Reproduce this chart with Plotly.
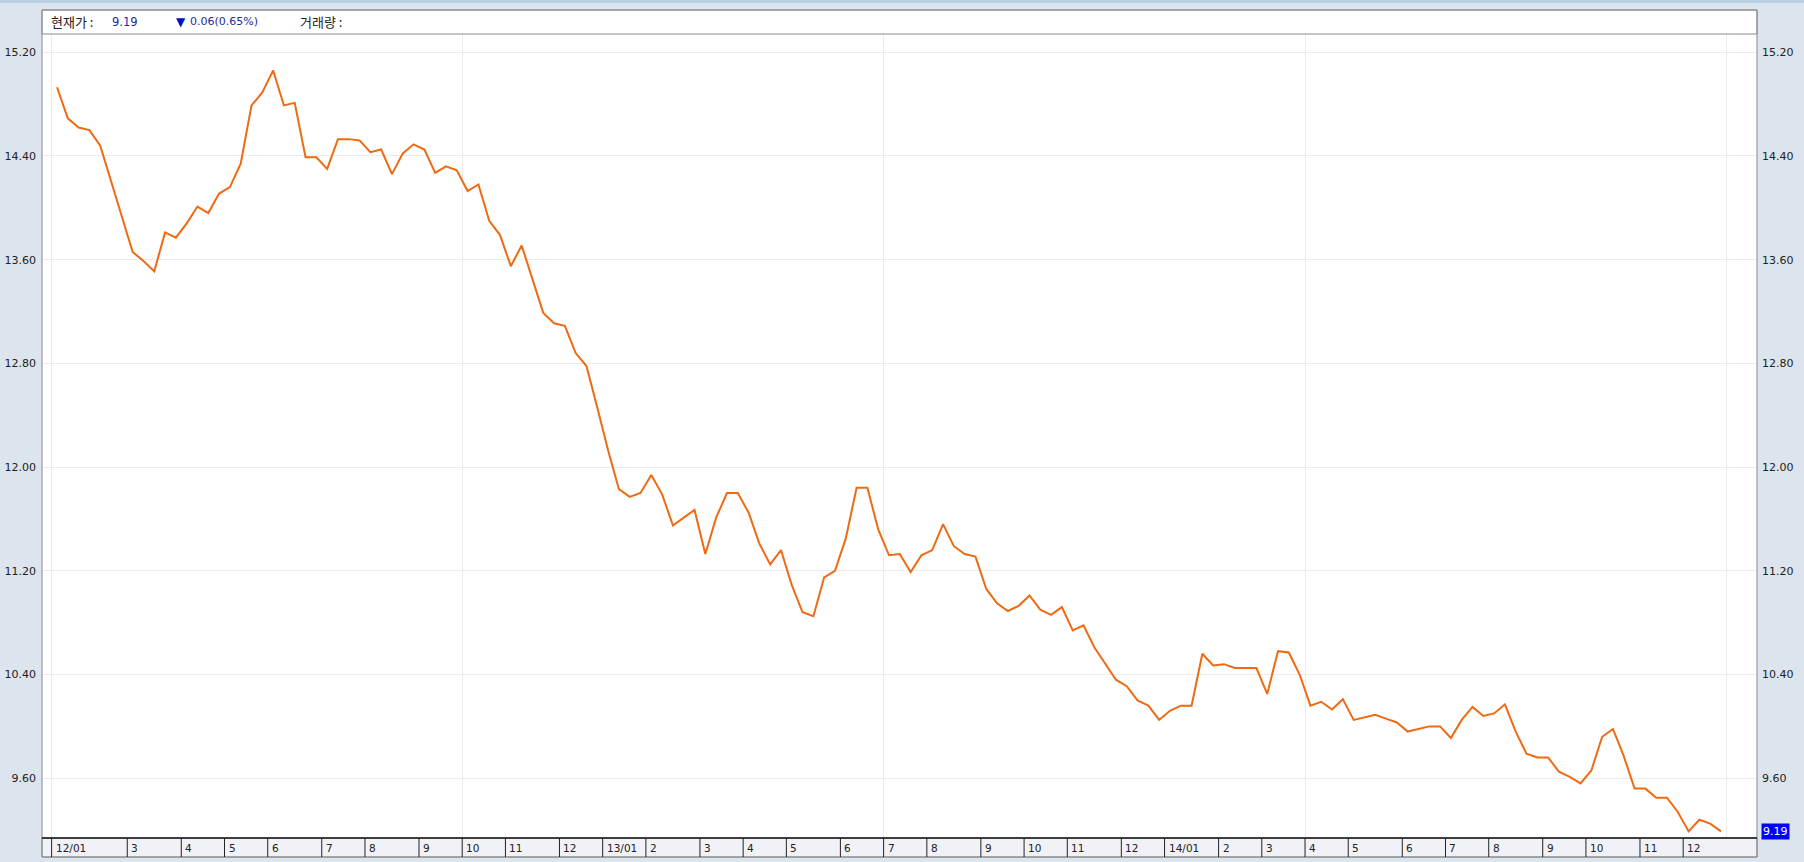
import plotly.graph_objects as go

# ---- data (weekly closes, Jan 2012 - Dec 2014) ----
prices = [
    14.93, 14.69, 14.62, 14.60, 14.48, 14.20, 13.93, 13.66, 13.59, 13.51,
    13.81, 13.77, 13.88, 14.01, 13.96, 14.11, 14.16, 14.34, 14.79, 14.89,
    15.06, 14.79, 14.81, 14.39, 14.39, 14.30, 14.53, 14.53, 14.52, 14.43,
    14.45, 14.26, 14.42, 14.49, 14.45, 14.27, 14.32, 14.29, 14.13, 14.18,
    13.90, 13.79, 13.55, 13.71, 13.45, 13.19, 13.11, 13.09, 12.88, 12.78,
    12.46, 12.13, 11.83, 11.77, 11.80, 11.94, 11.79, 11.55, 11.61, 11.67,
    11.33, 11.61, 11.80, 11.80, 11.65, 11.41, 11.25, 11.36, 11.09, 10.88,
    10.85, 11.15, 11.20, 11.45, 11.84, 11.84, 11.52, 11.32, 11.33, 11.19,
    11.32, 11.36, 11.56, 11.39, 11.33, 11.31, 11.06, 10.95, 10.89, 10.93,
    11.01, 10.90, 10.86, 10.92, 10.74, 10.78, 10.61, 10.48, 10.36, 10.31,
    10.20, 10.16, 10.05, 10.12, 10.16, 10.16, 10.56, 10.47, 10.48, 10.45,
    10.45, 10.45, 10.25, 10.58, 10.57, 10.40, 10.16, 10.19, 10.13, 10.21,
    10.05, 10.07, 10.09, 10.06, 10.03, 9.96, 9.98, 10.00, 10.00, 9.91,
    10.05, 10.15, 10.08, 10.10, 10.17, 9.96, 9.79, 9.76, 9.76, 9.65,
    9.61, 9.56, 9.66, 9.92, 9.98, 9.77, 9.52, 9.52, 9.45, 9.45,
    9.34, 9.19, 9.28, 9.25, 9.19,
]
weeks = list(range(len(prices)))

month_labels = ["12/01", "3", "4", "5", "6", "7", "8", "9", "10", "11", "12",
                "13/01", "2", "3", "4", "5", "6", "7", "8", "9", "10", "11", "12",
                "14/01", "2", "3", "4", "5", "6", "7", "8", "9", "10", "11", "12"]
month_start_week = [0, 7, 12, 16, 20, 25, 29, 34, 38, 42, 47,
                    51, 55, 60, 64, 68, 73, 77, 81, 86, 90, 94, 99,
                    103, 108, 112, 116, 120, 125, 129, 133, 138, 142, 147, 151]
grid_week = [0, 38, 77, 116, 155]          # vertical grid every 9 months

y_ticks = [9.60, 10.40, 11.20, 12.00, 12.80, 13.60, 14.40, 15.20]
y_ticktext = [f"{v:.2f}" for v in y_ticks]

header_label_price = "현재가 :"
header_change = "0.06(0.65%)"
header_volume = "거래량 :"

# ---- geometry ----
W, H = 1804, 862
ML, MR, MT, MB = 42, 47, 34, 24
PW = W - ML - MR
PH = H - MT - MB
AXIS_BOX = 19 / PH          # height of the date strip in paper units
HEADER = 24 / PH

LINE = "#ef6a12"
GRID = "#ececec"
BG = "#dce4ed"
NAVY = "#1e2a9c"
FONT = "DejaVu Sans"
KFONT = "Noto Sans CJK KR"

fig = go.Figure()
fig.add_trace(go.Scatter(x=weeks, y=prices, mode="lines",
                         line=dict(color=LINE, width=2), hoverinfo="skip",
                         showlegend=False))
fig.add_trace(go.Scatter(x=weeks, y=prices, mode="lines", yaxis="y2",
                         line=dict(color="rgba(0,0,0,0)", width=0),
                         hoverinfo="skip", showlegend=False))

xr = [-1.39, 157.33]
yr = [9.139, 15.341]

fig.update_layout(
    width=W, height=H,
    margin=dict(l=ML, r=MR, t=MT, b=MB, pad=0, autoexpand=False),
    paper_bgcolor=BG, plot_bgcolor="white",
    xaxis=dict(range=xr, tickvals=[g - 0.5 for g in grid_week],
               showticklabels=False, ticks="", showgrid=True,
               gridcolor=GRID, gridwidth=1, zeroline=False, showline=False,
               fixedrange=True, automargin=False),
    yaxis=dict(range=yr, tickvals=y_ticks, ticktext=y_ticktext,
               showgrid=True, gridcolor=GRID, gridwidth=1, zeroline=False,
               showline=False, ticks="", ticklabelstandoff=5,
               tickfont=dict(family=FONT, size=11, color="#222222"),
               fixedrange=True, automargin=False),
    yaxis2=dict(range=yr, tickvals=y_ticks, ticktext=y_ticktext,
                overlaying="y", side="right", showgrid=False, zeroline=False,
                showline=False, ticks="", ticklabelstandoff=4,
                tickfont=dict(family=FONT, size=11, color="#222222"),
                fixedrange=True, automargin=False),
)

shapes = []
# top light-blue strip
shapes.append(dict(type="rect", xref="paper", yref="paper",
                   x0=-ML / PW, x1=1 + MR / PW,
                   y0=1 + (MT - 3) / PH, y1=1 + MT / PH,
                   fillcolor="#b9cfe2", line=dict(width=0), layer="below"))
# header box
shapes.append(dict(type="rect", xref="paper", yref="paper",
                   x0=0, x1=1, y0=1, y1=1 + HEADER,
                   fillcolor="white", line=dict(color="#8a8a8a", width=1)))
# date strip
shapes.append(dict(type="rect", xref="paper", yref="paper",
                   x0=0, x1=1, y0=-AXIS_BOX, y1=0,
                   fillcolor="#f1f2f7", line=dict(color="#8a8a8a", width=1)))
# outer frame sides
shapes.append(dict(type="rect", xref="paper", yref="paper",
                   x0=0, x1=1, y0=-AXIS_BOX, y1=1 + HEADER,
                   fillcolor="rgba(0,0,0,0)", line=dict(color="#8a8a8a", width=1)))
# plot bottom line
shapes.append(dict(type="line", xref="paper", yref="paper",
                   x0=0, x1=1, y0=0, y1=0,
                   line=dict(color="#111111", width=1.5)))
# month separators
for m in month_start_week:
    shapes.append(dict(type="line", xref="x", yref="paper",
                       x0=m - 0.5, x1=m - 0.5, y0=-AXIS_BOX, y1=0,
                       line=dict(color="#222222", width=1)))

annotations = []
for lab, m in zip(month_labels, month_start_week):
    annotations.append(dict(x=m - 0.5, y=-AXIS_BOX / 2, xref="x", yref="paper",
                            text=lab, showarrow=False, xanchor="left",
                            yanchor="middle", xshift=2,
                            font=dict(family=FONT, size=10.5, color="#222222")))

hy = 1 + (MT - 22) / PH
def hx(px):
    return (px - ML) / PW

annotations += [
    dict(x=hx(50), y=hy, xref="paper", yref="paper", text=header_label_price,
         showarrow=False, xanchor="left", yanchor="middle", borderpad=0,
         font=dict(family=KFONT, size=13, color="#222222")),
    dict(x=hx(111), y=hy, xref="paper", yref="paper", text=f"{prices[-1]:.2f}",
         showarrow=False, xanchor="left", yanchor="middle", borderpad=0,
         font=dict(family=FONT, size=11.5, color=NAVY)),
    dict(x=hx(175), y=hy, xref="paper", yref="paper", text="▼",
         showarrow=False, xanchor="left", yanchor="middle", borderpad=0,
         font=dict(family=FONT, size=12, color="#0010c8")),
    dict(x=hx(189), y=hy, xref="paper", yref="paper", text=header_change,
         showarrow=False, xanchor="left", yanchor="middle", borderpad=0,
         font=dict(family=FONT, size=11, color=NAVY)),
    dict(x=hx(299), y=hy, xref="paper", yref="paper", text=header_volume,
         showarrow=False, xanchor="left", yanchor="middle", borderpad=0,
         font=dict(family=KFONT, size=13, color="#222222")),
    # current price tag on the right axis
    dict(x=1, y=prices[-1], xref="paper", yref="y", text=f"{prices[-1]:.2f}",
         showarrow=False, xanchor="left", yanchor="middle", xshift=4,
         bgcolor="#0000ff", borderpad=1,
         font=dict(family=FONT, size=11, color="white")),
]

fig.update_layout(shapes=shapes, annotations=annotations)
fig.write_html("out.html",
               config={"displayModeBar": False, "staticPlot": True},
               post_script="document.body.style.margin='0';"
                           "document.body.style.overflow='hidden';")
